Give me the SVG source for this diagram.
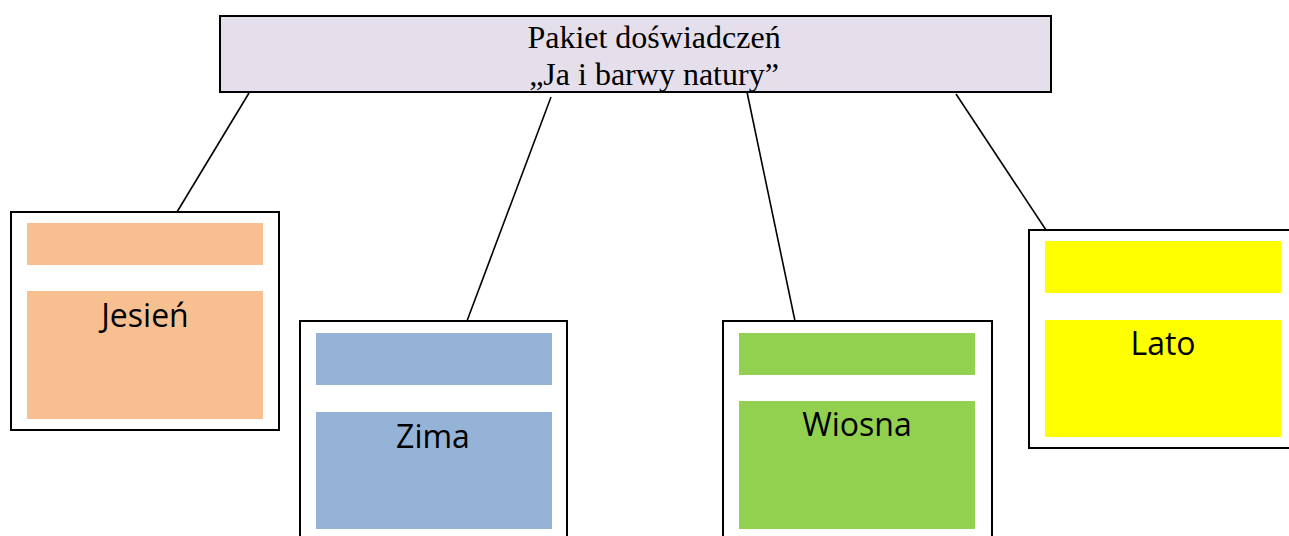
<svg xmlns="http://www.w3.org/2000/svg" width="1289" height="536" viewBox="0 0 1289 536">
  <style>
    .frame { fill: #ffffff; stroke: #000000; stroke-width: 2; }
    .title { fill: #E5DFEC; stroke: #000000; stroke-width: 2; }
    .ttl { font-family: "Liberation Serif", "Times New Roman", serif; font-size: 32px; fill: #000000; text-anchor: middle; }
    .lbl { font-family: "Open Sans", "Noto Sans", sans-serif; font-size: 32px; fill: #000000; text-anchor: middle; }
    .link { stroke: #000000; stroke-width: 1.6; fill: none; }
    .autumn { fill: #F8C091; }
    .winter { fill: #95B3D7; }
    .spring { fill: #92D050; }
    .summer { fill: #FFFF00; }
  </style>

  <!-- connectors from the title box to each season -->
  <g id="connectors">
    <line class="link" x1="249" y1="93" x2="177" y2="212"/>
    <line class="link" x1="551" y1="97" x2="467" y2="321"/>
    <line class="link" x1="747" y1="92" x2="795" y2="321"/>
    <line class="link" x1="956" y1="94" x2="1046" y2="230"/>
  </g>

  <g id="title">
    <rect class="title" x="220" y="16" width="831" height="76"/>
    <text class="ttl" x="654" y="48">Pakiet doświadczeń</text>
    <text class="ttl" x="654" y="85">„Ja i barwy natury”</text>
  </g>

  <g id="jesien">
    <rect class="frame" x="11" y="212" width="268" height="218"/>
    <rect class="autumn" x="27" y="223" width="236" height="42"/>
    <rect class="autumn" x="27" y="291" width="236" height="128"/>
    <text class="lbl" x="145" y="327">Jesień</text>
  </g>

  <g id="zima">
    <rect class="frame" x="300" y="321" width="267" height="230"/>
    <rect class="winter" x="316" y="333" width="236" height="52"/>
    <rect class="winter" x="316" y="412" width="236" height="117"/>
    <text class="lbl" x="433" y="448">Zima</text>
  </g>

  <g id="wiosna">
    <rect class="frame" x="723" y="321" width="269" height="230"/>
    <rect class="spring" x="739" y="333" width="236" height="42"/>
    <rect class="spring" x="739" y="401" width="236" height="128"/>
    <text class="lbl" x="857" y="436">Wiosna</text>
  </g>

  <g id="lato">
    <rect class="frame" x="1029" y="230" width="270" height="218"/>
    <rect class="summer" x="1045" y="241" width="236" height="52"/>
    <rect class="summer" x="1045" y="320" width="236" height="117"/>
    <text class="lbl" x="1163" y="355">Lato</text>
  </g>
</svg>
